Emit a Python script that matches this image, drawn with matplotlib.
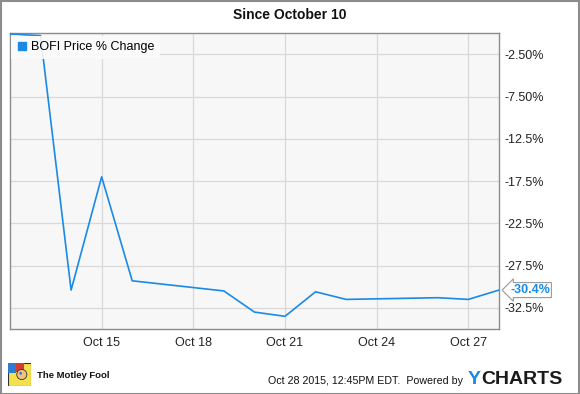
import pandas as pd
import matplotlib
matplotlib.use('Agg')
import matplotlib.pyplot as plt
import matplotlib.dates as mdates
from matplotlib.patches import Rectangle, Circle

plt.rcParams['font.family'] = ['Liberation Sans', 'DejaVu Sans']

# data
dates = ['2015-10-12', '2015-10-13', '2015-10-14', '2015-10-15', '2015-10-16',
         '2015-10-19', '2015-10-20', '2015-10-21', '2015-10-22', '2015-10-23',
         '2015-10-26', '2015-10-27', '2015-10-28']
pct_change = [-0.1, -0.3, -30.4, -17.0, -29.3, -30.5, -33.0, -33.5, -30.6,
              -31.5, -31.3, -31.5, -30.4]
series_name = 'BOFI Price % Change'
y_ticks = [-2.5, -7.5, -12.5, -17.5, -22.5, -27.5, -32.5]
y_tick_labels = ['-2.50%', '-7.50%', '-12.5%', '-17.5%', '-22.5%', '-27.5%', '-32.5%']
x_ticks = ['2015-10-15', '2015-10-18', '2015-10-21', '2015-10-24', '2015-10-27']

blue = '#1a8ae6'
x = pd.to_datetime(dates)

fig = plt.figure(figsize=(5.8, 3.94), dpi=100)
ax = fig.add_axes([0.0172, 0.165, 0.843, 0.751])
ax.set_facecolor('#f7f7f7')

ax.plot(x, pct_change, color=blue, lw=1.2, label=series_name, zorder=3)

ax.set_xlim(pd.Timestamp('2015-10-12'), pd.Timestamp('2015-10-28'))
ax.set_ylim(-35, 0)
ax.set_xticks(pd.to_datetime(x_ticks))
ax.xaxis.set_major_formatter(mdates.DateFormatter('%b %-d'))
ax.set_yticks(y_ticks)
ax.set_yticklabels(y_tick_labels)
ax.yaxis.tick_right()
ax.tick_params(axis='both', length=0, labelsize=9, colors='#222222')
ax.tick_params(axis='y', pad=4)
ax.tick_params(axis='x', pad=6)
ax.grid(True, color='#d9d9d9', lw=0.9)
ax.set_axisbelow(True)
for s in ax.spines.values():
    s.set_color('#8c8c8c')
    s.set_linewidth(1.0)

# legend
leg = ax.legend(handles=[plt.Line2D([], [], marker='s', ls='', color=blue, markersize=6)],
                labels=[series_name], loc='upper left', bbox_to_anchor=(-0.002, 1.0),
                frameon=True, fontsize=9, handletextpad=0.3, borderpad=0.45,
                handlelength=0.8, borderaxespad=0.2)
leg.get_frame().set_facecolor('#fbfbfb')
leg.get_frame().set_edgecolor('none')
leg.get_frame().set_alpha(0.9)
leg.get_frame().set_boxstyle('square', pad=0.0)

# last value label
ax.annotate('-30.4%', xy=(x[-1], pct_change[-1]), xytext=(8, 0),
            textcoords='offset points', va='center', ha='left',
            fontsize=9, fontweight='bold', color=blue, annotation_clip=False,
            bbox=dict(boxstyle='larrow,pad=0.12', fc='white', ec='#999999', lw=0.8))

fig.text(0.5, 0.962, 'Since October 10', ha='center', va='center',
         fontsize=10, fontweight='bold', color='#111111')

# footer
logo = fig.add_axes([8 / 580, 1 - 386 / 394, 23 / 580, 23 / 394])
logo.set_xlim(0, 1)
logo.set_ylim(0, 1)
logo.axis('off')
logo.add_patch(Rectangle((0, 0), 1, 1, fc='#f4e04d', ec='#333333', lw=0.8))
logo.add_patch(Rectangle((0, 0.55), 0.35, 0.45, fc='#2e7bd0', ec='none'))
logo.add_patch(Rectangle((0.35, 0.6), 0.35, 0.4, fc='#d63b2f', ec='none'))
logo.add_patch(Circle((0.6, 0.5), 0.22, fc='#f2c27a', ec='#333333', lw=0.6))
logo.add_patch(Circle((0.55, 0.55), 0.06, fc='#2e7bd0', ec='none'))
fig.text(37 / 580, 1 - 375 / 394, 'The Motley Fool', ha='left', va='center',
         fontsize=6.8, fontweight='bold', color='#111111')
fig.text(463 / 580, 1 - 381 / 394, 'Oct 28 2015, 12:45PM EDT.  Powered by',
         ha='right', va='center', fontsize=7.7, color='#111111')

y_txt = fig.text(468 / 580, 1 - 380 / 394, 'Y', ha='left', va='center',
                 fontsize=14, fontweight='bold', color='#1a8ae6')
fig.canvas.draw()
bb = y_txt.get_window_extent(fig.canvas.get_renderer())
fig.text(bb.x1 / fig.bbox.width, 1 - 380 / 394, 'CHARTS', ha='left', va='center',
         fontsize=14, fontweight='bold', color='#1b1b1b')

fig.patches.append(Rectangle((0.001, 0.001), 0.998, 0.997, transform=fig.transFigure,
                             fill=False, ec='#8c8c8c', lw=1.5))

fig.savefig('out.png', dpi=100)
